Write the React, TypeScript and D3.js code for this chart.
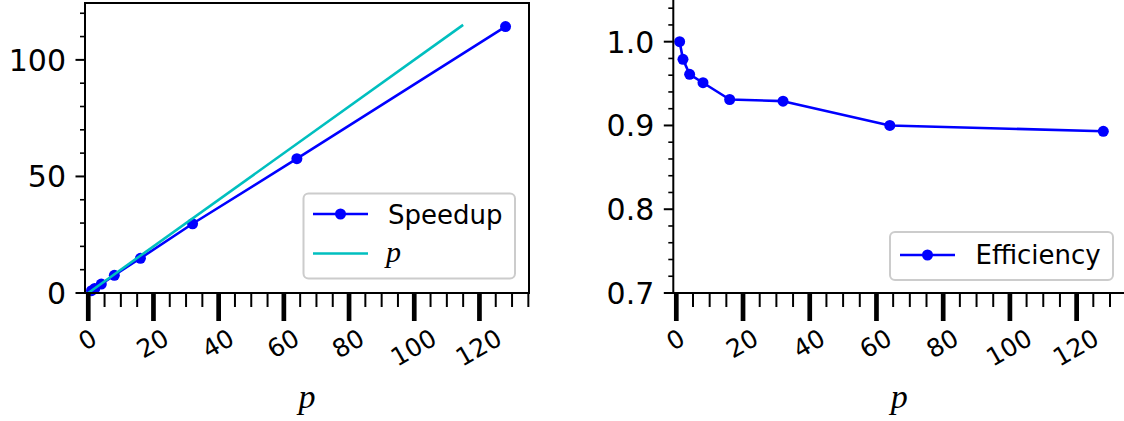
import React from "react";
import * as d3 from "d3";

// Processor counts and measured results
const procs = [1, 2, 4, 8, 16, 32, 64, 128];
const speedup = [1, 1.96, 3.84, 7.6, 14.9, 29.7, 57.6, 114.3];
const efficiency = [1.0, 0.979, 0.961, 0.951, 0.931, 0.929, 0.9, 0.893];
// Ideal linear speedup reference line (p against p)
const idealP = [0, 115];

const xTickValues = [0, 20, 40, 60, 80, 100, 120];
const speedupTicks = [0, 50, 100];
const efficiencyTicks = [0.7, 0.8, 0.9, 1.0];

const W = 1124;
const H = 421;
const FONT = "'DejaVu Sans', sans-serif";
const MATH = "'Liberation Serif', 'DejaVu Serif', serif";
const BLUE = "#0000ff";
const CYAN = "#00bfbf";

const X_TICK_FS = 25;
const Y_TICK_FS = 30;
const LEG_FS = 26;

type Panel = {
  x: d3.ScaleLinear<number, number>;
  y: d3.ScaleLinear<number, number>;
  yMajor: number[];
  yMinor: number[];
  yFmt: (v: number) => string;
  xMinorMax: number;
  fullFrame: boolean;
};

function Axes({ p }: { p: Panel }) {
  const [x0, x1] = p.x.range();
  const [yb, yt] = p.y.range();
  const xMinor = d3.range(0, p.xMinorMax + 0.01, 5);
  const labelTop = 335.3; // rotated label boxes share a top edge
  return (
    <g>
      {/* x minor ticks */}
      {xMinor.map((v) => (
        <line key={"xm" + v} x1={p.x(v)} x2={p.x(v)} y1={yb} y2={yb + 14} stroke="#000" strokeWidth={2} />
      ))}
      {/* x major ticks */}
      {xTickValues.map((v) => (
        <line key={"xM" + v} x1={p.x(v)} x2={p.x(v)} y1={yb} y2={yb + 28} stroke="#000" strokeWidth={4.7} />
      ))}
      {xTickValues.map((v) => {
        const s = String(v);
        const cy = labelTop + s.length * 0.636 * X_TICK_FS * 0.25;
        const cx = p.x(v) - 1;
        return (
          <text
            key={"xl" + v}
            x={cx}
            y={cy + 0.365 * X_TICK_FS}
            transform={`rotate(-30 ${cx} ${cy})`}
            textAnchor="middle"
            fontFamily={FONT}
            fontSize={X_TICK_FS}
            fill="#000"
          >
            {s}
          </text>
        );
      })}
      {/* y minor ticks */}
      {p.yMinor.map((v) => (
        <line key={"ym" + v} x1={x0} x2={x0 - 5} y1={p.y(v)} y2={p.y(v)} stroke="#000" strokeWidth={1.6} />
      ))}
      {p.yMajor.map((v) => (
        <line key={"yM" + v} x1={x0} x2={x0 - 9.5} y1={p.y(v)} y2={p.y(v)} stroke="#000" strokeWidth={2} />
      ))}
      {p.yMajor.map((v) => (
        <text
          key={"yl" + v}
          x={x0 - 19}
          y={p.y(v) + 0.365 * Y_TICK_FS}
          textAnchor="end"
          fontFamily={FONT}
          fontSize={Y_TICK_FS}
          fill="#000"
        >
          {p.yFmt(v)}
        </text>
      ))}
      {/* spines */}
      {p.fullFrame ? (
        <rect x={x0} y={yt} width={x1 - x0} height={yb - yt} fill="none" stroke="#000" strokeWidth={2} />
      ) : (
        <path d={`M${x0},${yt - 2}V${yb}H${x1 + 2}`} fill="none" stroke="#000" strokeWidth={2} />
      )}
      {/* axis label */}
      <text
        x={(x0 + x1) / 2}
        y={407.5}
        textAnchor="middle"
        fontFamily={MATH}
        fontStyle="italic"
        fontSize={34}
        fill="#000"
      >
        p
      </text>
    </g>
  );
}

export default function App() {
  // Left panel: speedup
  const xL = d3.scaleLinear().domain([-1, 135.2]).range([85, 529]);
  const yL = d3.scaleLinear().domain([0, 124.4]).range([293, 3]);
  // Right panel: efficiency
  const xR = d3.scaleLinear().domain([-0.9, 134.5]).range([673.3, 1125]);
  const yR = d3.scaleLinear().domain([0.7, 1.05]).range([293, -0.2]);

  const left: Panel = {
    x: xL,
    y: yL,
    yMajor: speedupTicks,
    yMinor: d3.range(10, 124, 10).filter((v) => v % 50 !== 0),
    yFmt: (v) => String(v),
    xMinorMax: 135,
    fullFrame: true,
  };
  const right: Panel = {
    x: xR,
    y: yR,
    yMajor: efficiencyTicks,
    yMinor: d3.range(0, 18).map((i) => +(0.7 + i * 0.02).toFixed(2)).filter((v) => Math.round(v * 100) % 10 !== 0),
    yFmt: (v) => v.toFixed(1),
    xMinorMax: 130,
    fullFrame: false,
  };

  const speedPts = procs.map((p, i) => [p, speedup[i]] as [number, number]);
  const effPts = procs.map((p, i) => [p, efficiency[i]] as [number, number]);
  const idealPts = idealP.map((p) => [p, p] as [number, number]);

  const lineL = d3.line<[number, number]>().x((d) => xL(d[0])).y((d) => yL(d[1]));
  const lineR = d3.line<[number, number]>().x((d) => xR(d[0])).y((d) => yR(d[1]));

  return (
    <div style={{ position: "fixed", left: 0, top: 0, width: W, height: H, background: "#fff" }}>
      <svg width={W} height={H} viewBox={`0 0 ${W} ${H}`} style={{ display: "block" }}>
        <rect width={W} height={H} fill="#fff" />

        {/* Speedup panel */}
        <g>
          <path d={lineL(speedPts) ?? ""} fill="none" stroke={BLUE} strokeWidth={2.6} strokeLinejoin="round" />
          {speedPts.map((d, i) => (
            <circle key={"s" + i} cx={xL(d[0])} cy={yL(d[1])} r={5.5} fill={BLUE} />
          ))}
          <path d={lineL(idealPts) ?? ""} fill="none" stroke={CYAN} strokeWidth={2.6} />
          <Axes p={left} />
          {/* legend */}
          <g>
            <rect x={303.5} y={193.5} width={211.5} height={85} rx={5} fill="#fff" fillOpacity={0.8} stroke="#cccccc" strokeWidth={2} />
            <line x1={313} x2={368} y1={214} y2={214} stroke={BLUE} strokeWidth={2.6} />
            <circle cx={340.5} cy={214} r={5.5} fill={BLUE} />
            <text x={388} y={224} fontFamily={FONT} fontSize={LEG_FS} fill="#000">Speedup</text>
            <line x1={313} x2={368} y1={253.5} y2={253.5} stroke={CYAN} strokeWidth={2.6} />
            <text x={386} y={261.5} fontFamily={MATH} fontStyle="italic" fontSize={30} fill="#000">p</text>
          </g>
        </g>

        {/* Efficiency panel */}
        <g>
          <path d={lineR(effPts) ?? ""} fill="none" stroke={BLUE} strokeWidth={2.6} strokeLinejoin="round" />
          {effPts.map((d, i) => (
            <circle key={"e" + i} cx={xR(d[0])} cy={yR(d[1])} r={5.5} fill={BLUE} />
          ))}
          <Axes p={right} />
          <g>
            <rect x={890} y={232} width={223} height={48} rx={5} fill="#fff" fillOpacity={0.8} stroke="#cccccc" strokeWidth={2} />
            <line x1={900} x2={955} y1={255} y2={255} stroke={BLUE} strokeWidth={2.6} />
            <circle cx={927.5} cy={255} r={5.5} fill={BLUE} />
            <text x={975.5} y={263.5} fontFamily={FONT} fontSize={LEG_FS} fill="#000">Efficiency</text>
          </g>
        </g>
      </svg>
    </div>
  );
}
